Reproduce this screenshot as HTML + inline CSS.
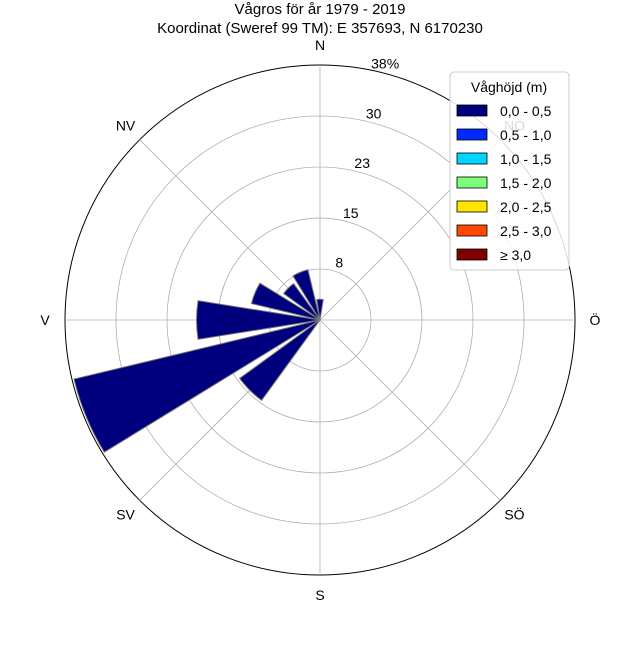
<!DOCTYPE html>
<html><head><meta charset="utf-8"><style>
body{margin:0;background:#fff;}
svg{font-family:"Liberation Sans",sans-serif;}
</style></head><body>
<svg id="c" width="640" height="640" viewBox="0 0 640 640">
<text x="320" y="14" font-size="15" text-anchor="middle">Vågros för år 1979 - 2019</text>
<text x="320" y="33" font-size="15" text-anchor="middle">Koordinat (Sweref 99 TM): E 357693, N 6170230</text>
<g id="grid"></g>
<g id="bars"></g>
<g id="labels"></g>
<g id="legend"></g>
</svg>
<script>
const directions = ["N","NNÖ","NÖ","ÖNÖ","Ö","ÖSÖ","SÖ","SSÖ","S","SSV","SV","VSV","V","VNV","NV","NNV"];
const values = [3.1,0,0,0,0,0,0,0,0,0,14.8,37.7,18.4,10.5,6.7,7.7];
const rTicks = [7.6,15.2,22.8,30.4,38];
const rTickLabels = ["8","15","23","30","38%"];
const compassLabels = ["N","NÖ","Ö","SÖ","S","SV","V","NV"];
const legendLabels = ["0,0 - 0,5","0,5 - 1,0","1,0 - 1,5","1,5 - 2,0","2,0 - 2,5","2,5 - 3,0","≥ 3,0"];
const legendColors = ["#00007f","#0028ff","#00d4ff","#7dff7a","#ffe500","#ff4800","#7f0000"];

const NS="http://www.w3.org/2000/svg";
const cx=320, cy=320, R=255, rMax=38;
const rScale=v=>v/rMax*R;
function pt(deg,r){const a=deg*Math.PI/180;return [cx+r*Math.sin(a), cy-r*Math.cos(a)];}
function mk(tag,attrs,parent){const e=document.createElementNS(NS,tag);for(const k in attrs)e.setAttribute(k,attrs[k]);parent.appendChild(e);return e;}
const grid=document.getElementById('grid'), bars=document.getElementById('bars'), labels=document.getElementById('labels'), legend=document.getElementById('legend');

rTicks.forEach((t,i)=>{
  const c=mk('circle',{cx:cx,cy:cy,r:rScale(t),fill:'none',stroke:i==rTicks.length-1?'#000':'#b0b0b0','stroke-width':i==rTicks.length-1?1:0.8},grid);
  
  
});
for(let i=0;i<8;i++){
  const p=pt(i*45,R);
  const l=mk('line',{x1:cx,y1:cy,x2:p[0],y2:p[1],stroke:'#b0b0b0','stroke-width':0.8},grid);
  
  
}
const w=18;
values.forEach((v,i)=>{
  if(v<=0)return;
  const c=i*22.5, r=rScale(v);
  const p1=pt(c-w/2,r), p2=pt(c+w/2,r);
  const d=`M${cx},${cy} L${p1[0]},${p1[1]} A${r},${r} 0 0 1 ${p2[0]},${p2[1]} Z`;
  const b=mk('path',{d:d,fill:'#00007f',stroke:'#777','stroke-width':1},bars);
  
  
});
rTicks.forEach((t,i)=>{
  const p=pt(13,rScale(t)+8);
  const tx=mk('text',{x:p[0]+6,y:p[1]+5,'font-size':14,'text-anchor':'middle'},labels);
  tx.textContent=rTickLabels[i];
  
  
});
compassLabels.forEach((s,i)=>{
  const p=pt(i*45,R+20);
  const tx=mk('text',{x:p[0],y:p[1]+5,'font-size':14,'text-anchor':'middle'},labels);
  tx.textContent=s;
  
  
});
const box=mk('rect',{x:450,y:72,width:119,height:198,rx:4,fill:'#fff','fill-opacity':0.85,stroke:'#ccc'},legend);


const lt=mk('text',{x:509,y:92,'font-size':14,'text-anchor':'middle'},legend);
lt.textContent='Våghöjd (m)';


legendLabels.forEach((s,i)=>{
  const y=105+i*24;
  const r=mk('rect',{x:457,y:y,width:30,height:11,fill:legendColors[i],stroke:'#000','stroke-width':0.8},legend);
  
  
  const t=mk('text',{x:500,y:y+11,'font-size':14},legend);
  t.textContent=s;
  
  
});
</script>
</body></html>
